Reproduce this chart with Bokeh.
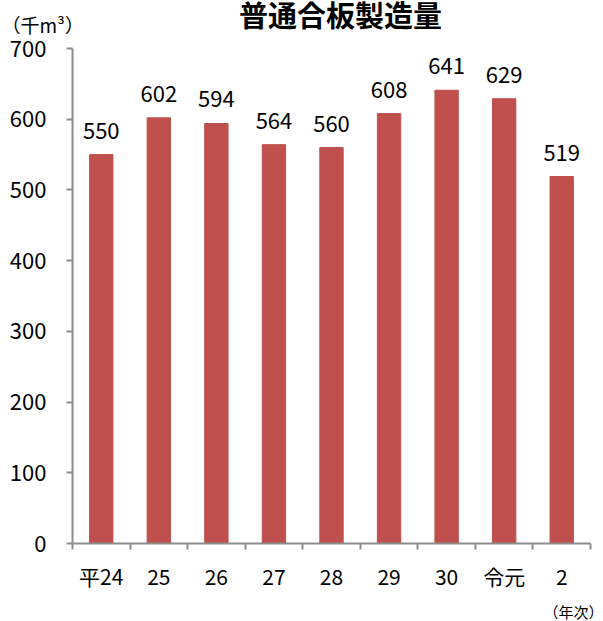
from bokeh.plotting import figure
from bokeh.models import ColumnDataSource, LabelSet, Label, FixedTicker, Range1d
from bokeh.core.properties import value
from bokeh.embed import file_html
from bokeh.resources import INLINE

years = ["平24", "25", "26", "27", "28", "29", "30", "令元", "2"]
values = [550, 602, 594, 564, 560, 608, 641, 629, 519]
title_text = "普通合板製造量"
y_unit = "（千m³）"
x_unit = "（年次）"
y_ticks = [0, 100, 200, 300, 400, 500, 600, 700]

FONT = "Noto Sans CJK JP"
BAR = "#C0504D"
AXIS = "#8C8C8C"

n = len(years)
xs = [i + 0.5 for i in range(n)]
src = ColumnDataSource(dict(x=xs, top=values, lab=[str(v) for v in values]))

# frame covers the whole canvas; axes are pinned at x=0 / y=0
p = figure(width=603, height=621, output_backend="svg", toolbar_location=None,
           x_range=Range1d(-1.2509, 9.2259), y_range=Range1d(-110.3, 767.9),
           min_border=0)
p.outline_line_color = None
p.xgrid.visible = False
p.ygrid.visible = False

p.vbar(x="x", top="top", width=0.406, source=src, color=BAR)

# x axis
xa = p.xaxis[0]
xa.fixed_location = 0
xa.bounds = (0, n)
xa.ticker = FixedTicker(ticks=xs, minor_ticks=list(range(n + 1)))
xa.major_label_overrides = {x: y for x, y in zip(xs, years)}
xa.major_tick_line_color = None
xa.minor_tick_line_color = AXIS
xa.minor_tick_out = 6
xa.minor_tick_in = 0
xa.axis_line_color = AXIS
xa.axis_line_width = 2
xa.minor_tick_line_width = 2
xa.major_label_text_font = FONT
xa.major_label_text_font_size = "21px"
xa.major_label_text_color = "black"
xa.major_label_standoff = 11

# y axis
ya = p.yaxis[0]
ya.fixed_location = 0
ya.bounds = (0, 700)
ya.ticker = FixedTicker(ticks=y_ticks)
ya.minor_tick_line_color = None
ya.major_tick_line_color = AXIS
ya.major_tick_line_width = 2
ya.major_tick_out = 6
ya.major_tick_in = 0
ya.axis_line_color = AXIS
ya.axis_line_width = 2
ya.major_label_text_font = FONT
ya.major_label_text_font_size = "22px"
ya.major_label_text_color = "black"
ya.major_label_standoff = 20

labels = LabelSet(x="x", y="top", text="lab", source=src, text_align="center",
                  text_baseline="alphabetic", y_offset=16, text_font=value(FONT),
                  text_font_size=value("22px"), text_color="black")
p.add_layout(labels)

p.add_layout(Label(x=4.5, y=700, x_offset=9, y_offset=35, text=title_text,
                   text_align="center", text_baseline="alphabetic", text_font=FONT,
                   text_font_size="29px", text_font_style="bold", text_color="black"))
p.add_layout(Label(x=0, y=700, x_offset=-71, y_offset=24, text=y_unit, text_align="left",
                   text_baseline="middle", text_font=FONT, text_font_size="19px",
                   text_color="black"))
p.add_layout(Label(x=n, y=0, x_offset=13, y_offset=-68, text=x_unit,
                   text_align="right", text_baseline="middle", text_font=FONT,
                   text_font_size="15px", text_color="black"))

open("out.html", "w").write(file_html(p, INLINE))
